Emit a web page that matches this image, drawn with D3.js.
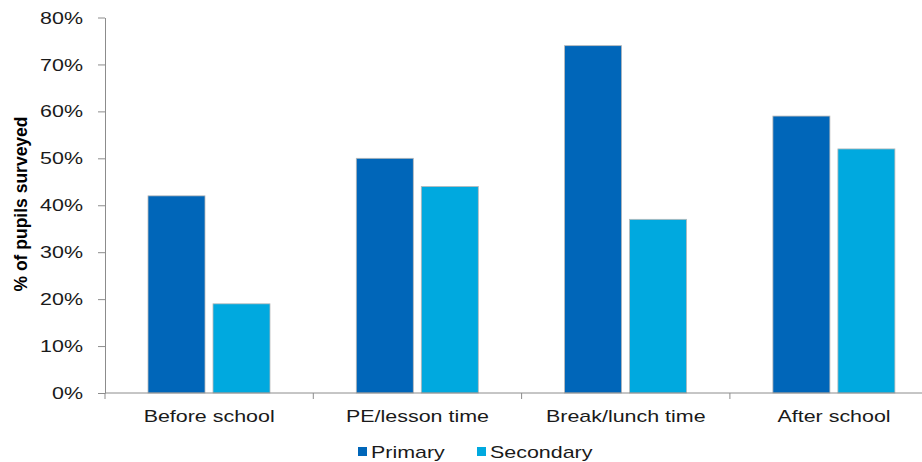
<!DOCTYPE html>
<html>
<head>
<meta charset="utf-8">
<script src="https://cdn.jsdelivr.net/npm/d3@7"></script>
<style>
body { margin: 0; background: #fff; }
svg { display: block; font-family: "Liberation Sans", Arial, sans-serif; }
</style>
</head>
<body>
<svg id="chart" width="922" height="462"></svg>
<script>
const categories = ["Before school", "PE/lesson time", "Break/lunch time", "After school"];
const seriesNames = ["Primary", "Secondary"];
const primaryValues = [42, 50, 74, 59];
const secondaryValues = [19, 44, 37, 52];
const yTicks = [0, 10, 20, 30, 40, 50, 60, 70, 80];
const yLabel = "% of pupils surveyed";
const colors = ["#0066B9", "#00A9DF"];

const seriesValues = [primaryValues, secondaryValues];
const SX = 1.34; // horizontal text stretch seen in the reference

const svg = d3.select("#chart");
const plotLeft = 105, plotBottom = 393, plotTop = 17.5, bandStep = 208.3;
const x = d3.scaleBand().domain(categories).range([plotLeft, plotLeft + bandStep * categories.length]).padding(0);
const xs = d3.scaleBand().domain(seriesNames).range([43, 165]).paddingInner(8 / 65).paddingOuter(0);
const y = d3.scaleLinear().domain([0, 80]).range([plotBottom, plotTop]);

// bars
seriesNames.forEach((s, si) => {
  svg.append("g").selectAll("rect")
    .data(categories)
    .join("rect")
    .attr("x", c => x(c) + xs(s))
    .attr("y", (c, i) => y(seriesValues[si][i]))
    .attr("width", xs.bandwidth())
    .attr("height", (c, i) => y(0) - y(seriesValues[si][i]))
    .attr("fill", colors[si])
    .attr("stroke", "#b8b8b8")
    .attr("stroke-width", 0.8);
});

// y axis
const yAxis = svg.append("g").attr("transform", `translate(${plotLeft},0)`)
  .call(d3.axisLeft(y).tickValues(yTicks).tickSize(7).tickSizeOuter(0).tickFormat(d => d + "%"));
yAxis.select(".domain").attr("stroke", "#8c8c8c");
yAxis.selectAll(".tick line").attr("stroke", "#8c8c8c");
yAxis.selectAll(".tick text")
  .attr("font-size", 16).attr("fill", "#1a1a1a")
  .attr("font-family", "'Liberation Sans', Arial, sans-serif")
  .attr("x", -22 / SX).attr("dy", "0.35em")
  .attr("transform", `scale(${SX},1)`);

// x axis
svg.append("line").attr("x1", plotLeft).attr("x2", 922).attr("y1", plotBottom).attr("y2", plotBottom)
  .attr("stroke", "#8c8c8c");
const tickXs = categories.map(c => x(c)).concat([x(categories[categories.length - 1]) + x.bandwidth()]);
svg.append("g").selectAll("line").data(tickXs).join("line")
  .attr("x1", d => d).attr("x2", d => d).attr("y1", plotBottom).attr("y2", plotBottom + 6)
  .attr("stroke", "#8c8c8c");
svg.append("g").selectAll("text").data(categories).join("text")
  .attr("transform", c => `translate(${x(c) + x.bandwidth() / 2},422) scale(${SX},1)`)
  .attr("text-anchor", "middle").attr("font-size", 16).attr("fill", "#1a1a1a")
  .text(c => c);

// y label
svg.append("text")
  .attr("transform", "translate(27,204) rotate(-90)")
  .attr("text-anchor", "middle").attr("font-size", 17.5).attr("font-weight", "bold")
  .attr("fill", "#000").text(yLabel);

// legend
const legendX = [358, 477];
seriesNames.forEach((s, si) => {
  svg.append("rect").attr("x", legendX[si]).attr("y", 447).attr("width", 9).attr("height", 9)
    .attr("fill", colors[si]);
  svg.append("text")
    .attr("transform", `translate(${legendX[si] + 13},458) scale(${SX},1)`)
    .attr("font-size", 16).attr("fill", "#1a1a1a").text(s);
});
</script>
</body>
</html>
